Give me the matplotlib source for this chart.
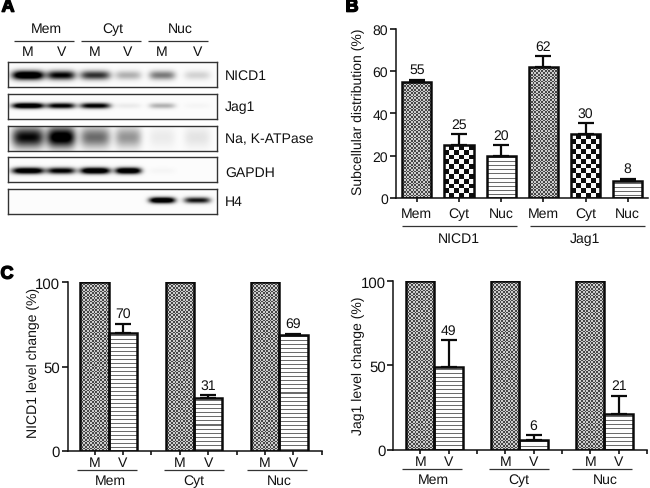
import matplotlib
matplotlib.use("Agg")
import matplotlib.pyplot as plt
import matplotlib.patheffects as pe
import numpy as np

plt.rcParams['font.family'] = ['Liberation Sans', 'DejaVu Sans']
plt.rcParams['text.hinting'] = 'no_hinting'
plt.rcParams['text.hinting_factor'] = 1

# values
blot_names = ['NICD1', 'Jag1', 'Na, K-ATPase', 'GAPDH', 'H4']
nicd1_bands = [1.0, 0.75, 0.6, 0.22, 0.38, 0.12]
jag1_bands = [1.0, 0.8, 0.8, 0.05, 0.22, 0.02]
atpase_bands = [0.72, 0.85, 0.42, 0.3, 0.05, 0.07]
gapdh_bands = [0.95, 0.8, 1.0, 1.0, 0.02, 0.0]
h4_bands = [0.0, 0.0, 0.0, 0.0, 1.0, 0.7]

dist_labels = ['Mem', 'Cyt', 'Nuc', 'Mem', 'Cyt', 'Nuc']
dist_values = [55, 25, 20, 62, 30, 8]
dist_tops = [56, 30, 25, 67, 35.5, 9]
dist_kinds = ['fine', 'coarse', 'lines', 'fine', 'coarse', 'lines']

fractions = ['Mem', 'Cyt', 'Nuc']
m_values = [100, 100, 100]
nicd1_v = [70, 31, 69]
nicd1_v_tops = [75.5, 33, 69.5]
jag1_v = [49, 6, 21]
jag1_v_tops = [65, 8.5, 32]

W, H = 650, 489
fig = plt.figure(figsize=(6.5, 4.89), dpi=100)
over = fig.add_axes([0, 0, 1, 1], zorder=5)
over.set_xlim(0, W)
over.set_ylim(H, 0)
over.axis('off')


def px_axes(x0, y0, x1, y1):
    return fig.add_axes([x0 / W, 1 - y1 / H, (x1 - x0) / W, (y1 - y0) / H])


def label(x, y, s, size=10.2, **kw):
    return over.text(x, y, s, fontsize=size, ha=kw.pop('ha', 'center'), va='center', color='#111111', **kw)


def rule(x0, x1, y):
    over.plot([x0, x1], [y, y], color='#333333', lw=0.9, solid_capstyle='butt')


def fill_pattern(ax, bar, kind):
    # pattern cells are sized in pixels so they look the same on every bar
    x0, y0 = bar.get_x(), bar.get_y()
    x1, y1 = x0 + bar.get_width(), y0 + bar.get_height()
    (a, b), (c, d) = ax.transData.transform([(x0, y0), (x1, y1)])
    wpx, hpx = abs(c - a), abs(d - b)
    if kind == 'lines':
        rows = max(int(round(hpx)), 1)
        grid = np.where(np.arange(rows) % 4 == 2, 0.42, 0.99)[:, None]
    else:
        cell = 1.7 if kind == 'fine' else 4.7
        rows = max(int(round(hpx / cell)), 1)
        cols = max(int(round(wpx / cell)), 1)
        yy, xx = np.indices((rows, cols))
        if kind == 'fine':
            grid = np.where((xx + yy) % 2 == 0, 0.8, 0.28)
        else:
            grid = np.where((xx + yy) % 2 == 0, 0.98, 0.05)
    xl, yl = ax.get_xlim(), ax.get_ylim()
    ax.imshow(grid, cmap='gray', vmin=0, vmax=1, extent=(x0, x1, y0, y1), aspect='auto',
              interpolation='nearest', zorder=1)
    ax.set_xlim(xl)
    ax.set_ylim(yl)


def style_axes(ax, size):
    for s in ['top', 'right']:
        ax.spines[s].set_visible(False)
    for s in ['left', 'bottom']:
        ax.spines[s].set_linewidth(1.1)
        ax.spines[s].set_color('#111111')
    ax.tick_params(axis='y', length=4, width=1.1, labelsize=size, pad=1.5, labelcolor='#111111')
    ax.tick_params(axis='x', length=3, width=1.1, labelsize=10.2, pad=3.5, labelcolor='#111111')
    ax.patch.set_alpha(0)


def draw_bars(ax, xs, values, tops, kinds, width, numbers=None):
    bars = ax.bar(xs, values, width=width, facecolor='none', edgecolor='#0a0a0a',
                  linewidth=1.8, zorder=3)
    for x, v, t, k, bar in zip(xs, values, tops, kinds, bars):
        fill_pattern(ax, bar, k)
        if t > v:
            ax.errorbar(x, v, yerr=[[0], [t - v]], color='#0a0a0a', elinewidth=1.6,
                        capsize=5.6, capthick=1.6, zorder=2, fmt='none')
    if numbers is not None:
        for x, t, n in zip(xs, tops, numbers):
            ax.annotate(str(n), (x, t), xytext=(0, 2.5), textcoords='offset points', ha='center',
                        va='bottom', fontsize=10.2, color='#111111')


# panel A, the blots
blot_rows = [(63, 88), (95, 120), (127, 152), (158, 183), (190, 215)]
lane_x = [28, 61, 95, 128, 162, 197]
lane_w = [16, 14, 15, 13, 13, 13]
blot_bands = [nicd1_bands, jag1_bands, atpase_bands, gapdh_bands, h4_bands]
blot_shape = [(13, 4.5), (11.5, 2.8), (11, 10.0), (13.5, 3.2), (11, 3.0)]
blot_label_y = [76, 107, 140, 173, 202]
for (y0, y1), bands, (yc, sy), name, ly in zip(blot_rows, blot_bands, blot_shape, blot_names, blot_label_y):
    ax = px_axes(8, y0, 217, y1)
    xx, yy = np.meshgrid(np.arange(8, 217, 0.5), np.arange(0, y1 - y0, 0.5))
    dark = np.zeros_like(xx)
    for cx, w, v in zip(lane_x, lane_w, bands):
        dark += v * np.exp(-((xx - cx) / w) ** 4) * np.exp(-((yy - yc) / sy) ** 2)
    ax.imshow(1 - np.clip(1.35 * dark, 0, 1) - 0.012, cmap='gray', vmin=0, vmax=1, aspect='auto',
              extent=(8, 217, y1 - y0, 0), interpolation='bilinear')
    ax.set_xticks([])
    ax.set_yticks([])
    for s in ax.spines.values():
        s.set_linewidth(1.0)
        s.set_color('#333333')
    label(225, ly, name, ha='left')

for x0, x1, cx, name in [(14, 74, 46, 'Mem'), (81, 141, 113, 'Cyt'), (148, 208, 180, 'Nuc')]:
    rule(x0, x1, 41.5)
    label(cx, 29, name)
for x, name in zip([28, 62, 95, 127.5, 162, 198], ['M', 'V'] * 3):
    label(x, 52, name)

# panel B
ax_b = px_axes(395.7, 30, 648, 198.7)
ax_b.set_xlim(-0.5, 5.48)
ax_b.set_ylim(0, 80)
style_axes(ax_b, 10.2)
draw_bars(ax_b, np.arange(6), dist_values, dist_tops, dist_kinds, 0.69, dist_values)
ax_b.set_yticks([0, 20, 40, 60, 80])
ax_b.set_xticks(np.arange(6))
ax_b.set_xticklabels(dist_labels)
rule(402.3, 516.7, 227.3)
rule(530, 645, 227.3)
label(459, 239, 'NICD1')
label(585, 239, 'Jag1')
label(358, 112, 'Subcellular distribution (%)', rotation=90)


# panel C, the two change plots share their layout
def change_plot(box, values, tops, ylabel_pos, name, group_lines, group_y, text_y, centers):
    ax = px_axes(*box)
    ax.set_xlim(-0.95, 8.0)
    ax.set_ylim(0, 100)
    style_axes(ax, 10.5)
    draw_bars(ax, [0, 3, 6], m_values, m_values, ['fine'] * 3, 1.0)
    draw_bars(ax, [1, 4, 7], values, tops, ['lines'] * 3, 1.0, values)
    ax.set_yticks([0, 50, 100])
    ax.set_xticks(np.arange(9))
    ax.set_xticklabels(['M', 'V', ''] * 3)
    ax.tick_params(axis='x', pad=0.5)
    for (x0, x1), cx, f in zip(group_lines, centers, fractions):
        rule(x0, x1, group_y)
        label(cx, text_y, f)
    label(ylabel_pos[0], ylabel_pos[1], name, rotation=90)


change_plot((67.7, 283.3, 321.7, 451.7), nicd1_v, nicd1_v_tops, (33, 363), 'NICD1 level change (%)',
            [(77, 137), (164, 224), (247, 307)], 470.7, 481, [110, 193.7, 279])
change_plot((393.3, 282, 647, 450.7), jag1_v, jag1_v_tops, (358, 366), 'Jag1 level change (%)',
            [(402, 462), (489, 549), (572, 632)], 470, 480, [433, 519, 605])

# panel letters
for x, y, s in [(8, 8, 'A'), (352, 8, 'B'), (7, 275, 'C')]:
    t = label(x, y, s, size=13, fontweight='bold')
    t.set_color('black')
    t.set_path_effects([pe.withStroke(linewidth=1.0, foreground='black')])

fig.savefig('out.png', dpi=100)
